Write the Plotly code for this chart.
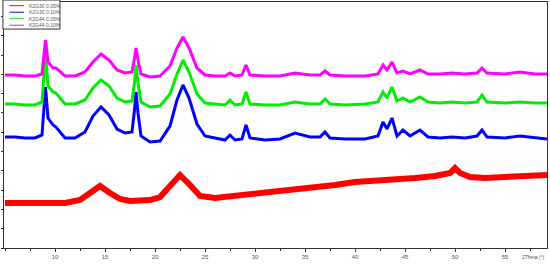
import plotly.graph_objects as go

# 2theta grid shared by the three crystalline patterns (degrees)
two_theta = [5, 6, 7, 8, 8.7, 8.9, 9.05, 9.3, 9.8, 10.1, 10.5, 11, 12, 13, 13.8, 14.6, 15.4,
             16.2, 17, 17.7, 17.95, 18.1, 18.3, 18.6, 19.5, 20.5, 21.5, 22.2, 22.8, 23.4,
             24.2, 25, 26,
             27, 27.5, 28, 28.7, 29.1, 29.5, 31, 32.5, 34, 35.5, 36.5, 37, 37.5, 39, 41,
             42.3, 42.8, 43.2, 43.7, 44.2, 44.8, 45.5, 46.5, 47.3, 48.5, 49.7, 51, 52.2,
             52.7, 53.2, 55, 56.5, 58, 59.2]

# intensities (arbitrary units, stacked)
k2g44_010 = [173, 173, 172, 172, 174, 192, 208, 186, 180, 180, 176, 172, 172, 176, 186, 194,
             188, 178, 175, 176, 190, 200, 188, 174, 171, 172, 182, 200, 211, 200, 180, 173, 172,
             172, 175, 172, 173, 183, 173, 172, 172, 175, 173, 173, 177, 173, 172, 172,
             174, 183, 178, 186, 175, 177, 174, 178, 174, 174, 175, 174, 175,
             180, 175, 174, 176, 174, 174]
k2g44_005 = [144, 144, 143, 143, 146, 170, 195, 162, 156, 155, 150, 144, 144, 148, 160, 168,
             162, 150, 146, 147, 165, 183, 165, 146, 141, 142, 154, 174, 188, 176, 154, 145, 144,
             143, 148, 143, 144, 156, 144, 143, 143, 146, 144, 144, 149, 144, 143, 144,
             146, 156, 150, 161, 147, 150, 146, 151, 146, 145, 146, 145, 146,
             153, 146, 145, 146, 145, 145]
k2g30_010 = [111, 111, 110, 110, 113, 138, 161, 130, 123, 121, 116, 110, 110, 116, 132, 141,
             133, 119, 115, 116, 138, 156, 135, 112, 106, 107, 122, 148, 163, 150, 124, 112, 110,
             108, 113, 108, 109, 123, 110, 108, 109, 115, 111, 111, 116, 110, 109, 109,
             112, 126, 119, 130, 112, 118, 112, 118, 111, 110, 111, 110, 112,
             118, 111, 110, 112, 110, 109]

# amorphous sample
two_theta_red = [5, 7, 9, 11, 12.5, 13.5, 14.5, 15.5, 16.5, 17.5, 18.5, 19.5, 20.5, 21.5, 22.5,
                 23.5, 24.5, 26, 28, 30, 32, 34, 36, 38, 40, 42, 44, 46, 48, 49.5, 50, 50.5,
                 51.5, 53, 55, 57, 59.2]
k2g30_005 = [45, 45, 44, 45, 48, 55, 62, 55, 49, 47, 47, 48, 51, 62, 73, 63, 52, 50, 52, 55,
             57, 58, 61, 63, 66, 67, 69, 70, 72, 75, 80, 75, 71, 70, 71, 72, 73]

series_names = ["K2G30 0.05%", "K2G30 0.10%", "K2G44 0.05%", "K2G44 0.10%"]
series_colors = ["#ff0000", "#0000ff", "#00ee00", "#ff00ff"]
x_ticks = [10, 15, 20, 25, 30, 35, 40, 45, 50, 55]

fig = go.Figure()
fig.add_trace(go.Scatter(x=two_theta_red, y=k2g30_005, name=series_names[0], mode="lines",
                         line=dict(color=series_colors[0], width=6)))
fig.add_trace(go.Scatter(x=two_theta, y=k2g30_010, name=series_names[1], mode="lines",
                         line=dict(color=series_colors[1], width=3)))
fig.add_trace(go.Scatter(x=two_theta, y=k2g44_005, name=series_names[2], mode="lines",
                         line=dict(color=series_colors[2], width=3)))
fig.add_trace(go.Scatter(x=two_theta, y=k2g44_010, name=series_names[3], mode="lines",
                         line=dict(color=series_colors[3], width=3)))

# small boxed legend in the top-left corner, drawn by hand
shapes = [dict(type="rect", xref="paper", yref="paper", x0=-0.002, x1=0.103, y0=0.89, y1=1.008,
               line=dict(color="#333333", width=1), fillcolor="white", layer="above")]
annotations = []
for i, (name, color) in enumerate(zip(series_names, series_colors)):
    yy = 0.985 - i * 0.0265
    shapes.append(dict(type="line", xref="paper", yref="paper", x0=0.01, x1=0.037, y0=yy, y1=yy,
                       line=dict(color=color, width=1), layer="above"))
    annotations.append(dict(text=name, xref="paper", yref="paper", x=0.042, y=yy,
                            xanchor="left", yanchor="middle", showarrow=False,
                            font=dict(size=5, color="#555555")))
annotations.append(dict(text="2Theta (°)", xref="paper", yref="paper", x=1, y=0,
                        xanchor="right", yanchor="middle", yshift=-9, showarrow=False,
                        font=dict(size=5, color="#555555")))

axis_common = dict(showline=True, linecolor="#333333", linewidth=1, mirror=True,
                   showgrid=False, zeroline=False)

fig.update_layout(
    width=550, height=267,
    margin=dict(l=4, r=3, t=2, b=19),
    paper_bgcolor="white", plot_bgcolor="white",
    font=dict(family="Liberation Sans, Arial", color="#555555", size=6),
    showlegend=False,
    xaxis=dict(range=[4.9, 59.2], tickvals=x_ticks, ticks="outside", ticklen=3,
               tickcolor="#333333", tickfont=dict(size=6),
               minor=dict(ticks="outside", ticklen=2, dtick=2.5, tick0=7.5, tickcolor="#333333"),
               **axis_common),
    yaxis=dict(range=[0, 246], tick0=0, dtick=19.3, ticks="outside", ticklen=2,
               tickcolor="#333333", showticklabels=False, **axis_common),
    shapes=shapes,
    annotations=annotations,
)

# drop the browser's default page margin so the figure sits at the window corner
fig.write_html("out.html", config={"displayModeBar": False},
               post_script="document.body.style.margin='0';")
